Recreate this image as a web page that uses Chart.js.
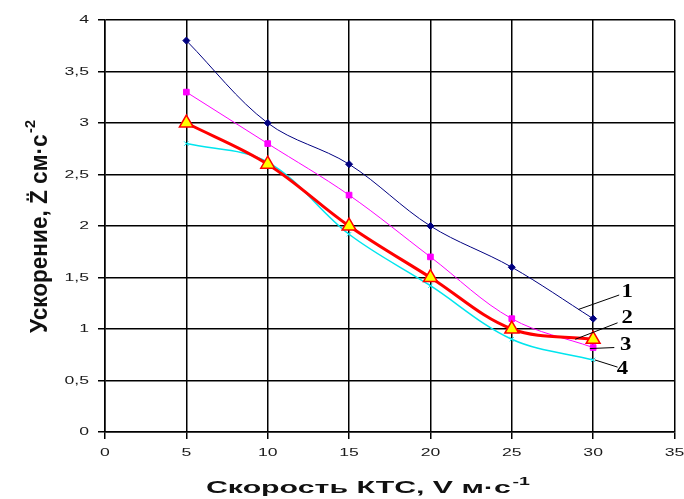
<!DOCTYPE html>
<html><head><meta charset="utf-8">
<script src="https://cdn.jsdelivr.net/npm/chart.js@4"></script>
<style>html,body{margin:0;padding:0;background:#fff}#wrap{width:684px;height:499px}</style>
</head><body><div id="wrap"><canvas id="c" width="684" height="499"></canvas></div>
<script>
const speeds = [5, 10, 15, 20, 25, 30];
const series1 = [3.8, 3.0, 2.6, 2.0, 1.6, 1.1];
const series2 = [3.3, 2.8, 2.3, 1.7, 1.1, 0.82];
const series3 = [3.0, 2.6, 2.0, 1.5, 1.0, 0.9];
const series4 = [2.8, 2.62, 1.92, 1.42, 0.9, 0.7];
const xTicks = [0, 5, 10, 15, 20, 25, 30, 35];
const yTicks = [0, 0.5, 1, 1.5, 2, 2.5, 3, 3.5, 4];
const xTitle = ['Скорость КТС, V м·с', '-1'];
const yTitle = ['Ускорение, Z̈ см·с', '-2'];
const curveLabels = ['1', '2', '3', '4'];
// leader lines: [fromX, fromY, toX, toY, labelX, labelY] in data units
const leaders = [
  [29.1, 1.19, 31.6, 1.33, 32.1, 1.36],
  [28.9, 0.90, 31.5, 1.06, 32.1, 1.11],
  [29.8, 0.81, 31.3, 0.82, 32.0, 0.84],
  [30.1, 0.70, 31.5, 0.63, 31.8, 0.61]
];
const pts = arr => speeds.map((x, i) => ({x, y: arr[i]}));

const SANS = '"Liberation Sans", Arial, sans-serif';
const TICK_SX = 1.6;

function drawTitle(ctx, parts, mainFont, supFont, supRise) {
  ctx.font = mainFont; const w1 = ctx.measureText(parts[0]).width;
  ctx.font = supFont; const w2 = ctx.measureText(parts[1]).width;
  return {w: w1 + w2 + 1, draw: () => {
    ctx.textAlign = 'left'; ctx.textBaseline = 'alphabetic';
    ctx.font = mainFont; ctx.fillText(parts[0], 0, 0);
    ctx.font = supFont; ctx.fillText(parts[1], w1 + 1, -supRise);
  }};
}

const textPlugin = {
  id: 'texts',
  afterDraw(chart) {
    const {ctx, scales: {x, y}} = chart;
    ctx.save();
    ctx.fillStyle = '#1a1a1a';
    ctx.font = '11px ' + SANS;
    // x tick labels
    ctx.textAlign = 'center'; ctx.textBaseline = 'middle';
    x.ticks.forEach(t => {
      ctx.save(); ctx.translate(x.getPixelForValue(t.value), 453); ctx.scale(TICK_SX, 1);
      ctx.fillText(String(t.value), 0, 0); ctx.restore();
    });
    // y tick labels
    ctx.textAlign = 'right';
    y.ticks.forEach(t => {
      ctx.save(); ctx.translate(89, y.getPixelForValue(t.value)); ctx.scale(TICK_SX, 1);
      ctx.fillText(String(t.value).replace('.', ','), 0, 0); ctx.restore();
    });
    ctx.fillStyle = '#111';
    // x title
    const xt = drawTitle(ctx, xTitle, 'bold 17px ' + SANS, 'bold 11px ' + SANS, 8);
    ctx.save(); ctx.translate(206, 493); ctx.scale(324 / xt.w, 1); xt.draw(); ctx.restore();
    // y title
    const yt = drawTitle(ctx, yTitle, 'bold 14px ' + SANS, 'bold 9px ' + SANS, 7);
    ctx.save(); ctx.translate(47, 333); ctx.rotate(-Math.PI / 2); ctx.scale(213 / yt.w, 1.65); yt.draw(); ctx.restore();
    // curve labels with leader lines
    ctx.strokeStyle = '#000'; ctx.lineWidth = 1; ctx.fillStyle = '#000';
    ctx.font = 'bold 19px "Liberation Serif", serif';
    ctx.textAlign = 'center'; ctx.textBaseline = 'middle';
    leaders.forEach((l, i) => {
      ctx.beginPath();
      ctx.moveTo(x.getPixelForValue(l[0]), y.getPixelForValue(l[1]));
      ctx.lineTo(x.getPixelForValue(l[2]), y.getPixelForValue(l[3]));
      ctx.stroke();
      ctx.save(); ctx.translate(x.getPixelForValue(l[4]), y.getPixelForValue(l[5])); ctx.scale(1.2, 1);
      ctx.fillText(curveLabels[i], 0, 0); ctx.restore();
    });
    ctx.restore();
  }
};

new Chart(document.getElementById('c'), {
  type: 'line',
  data: {
    datasets: [
      {data: pts(series3), borderColor: '#ff0000', borderWidth: 3, pointStyle: 'triangle', pointRadius: 8,
       pointBackgroundColor: '#ffff00', pointBorderColor: '#ff0000', pointBorderWidth: 1.5, tension: 0.35, order: 0},
      {data: pts(series1), borderColor: '#000080', borderWidth: 1, pointStyle: 'rectRot', pointRadius: 3.5,
       pointBackgroundColor: '#000080', pointBorderColor: '#000080', tension: 0.35, order: 1},
      {data: pts(series2), borderColor: '#ff00ff', borderWidth: 1, pointStyle: 'rect', pointRadius: 4,
       pointBackgroundColor: '#ff00ff', pointBorderColor: '#ff00ff', tension: 0.35, order: 2},
      {data: pts(series4), borderColor: '#00e5ee', borderWidth: 1.5, pointStyle: 'crossRot', pointRadius: 3,
       pointBackgroundColor: '#00e5ee', pointBorderColor: '#00e5ee', pointBorderWidth: 1, tension: 0.35, order: 3}
    ]
  },
  options: {
    responsive: false, animation: false,
    layout: {padding: {top: 20, right: 7, left: 0, bottom: 0}},
    plugins: {legend: {display: false}, tooltip: {enabled: false}},
    scales: {
      x: {
        type: 'linear', min: 0, max: 35,
        afterBuildTicks: s => { s.ticks = xTicks.map(v => ({value: v})); },
        afterFit: s => { s.height = 67; },
        grid: {color: '#000', lineWidth: 1.5, tickLength: 7, drawTicks: true},
        border: {color: '#000', width: 1.5},
        ticks: {display: false}
      },
      y: {
        type: 'linear', min: 0, max: 4,
        afterBuildTicks: s => { s.ticks = yTicks.map(v => ({value: v})); },
        afterFit: s => { s.width = 105; },
        grid: {color: '#000', lineWidth: 1.5, tickLength: 7},
        border: {color: '#000', width: 1.5},
        ticks: {display: false}
      }
    }
  },
  plugins: [textPlugin]
});
</script></body></html>
